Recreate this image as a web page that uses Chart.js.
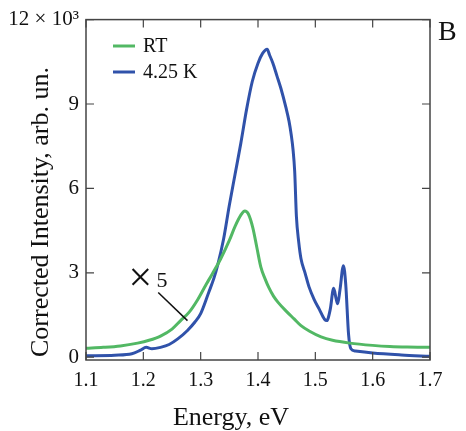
<!DOCTYPE html>
<html>
<head>
<meta charset="utf-8">
<script src="https://cdn.jsdelivr.net/npm/chart.js@4.4.1/dist/chart.umd.min.js"></script>
<style>
  html, body { margin: 0; padding: 0; background: #fff; }
  #wrap { width: 466px; height: 431px; }
</style>
</head>
<body>
<div id="wrap"><canvas id="chart"></canvas></div>
<script>
// RT spectrum
const RT_E = [1.10, 1.13, 1.16, 1.19, 1.21, 1.23, 1.25, 1.265, 1.28, 1.295, 1.31, 1.32, 1.335, 1.35, 1.36, 1.37, 1.377, 1.383, 1.391, 1.398, 1.405, 1.412, 1.419, 1.427, 1.435, 1.45, 1.463, 1.475, 1.49, 1.51, 1.53, 1.56, 1.60, 1.63, 1.66, 1.70];
const RT_I = [0.32, 0.35, 0.40, 0.50, 0.60, 0.75, 1.00, 1.30, 1.60, 2.05, 2.60, 2.95, 3.50, 4.15, 4.65, 5.05, 5.20, 5.10, 4.60, 3.90, 3.20, 2.80, 2.47, 2.17, 1.95, 1.62, 1.36, 1.12, 0.92, 0.72, 0.60, 0.50, 0.42, 0.38, 0.36, 0.35];

// 4.25 K spectrum
const LT_E = [1.10, 1.15, 1.18, 1.195, 1.205, 1.215, 1.23, 1.245, 1.26, 1.277, 1.29, 1.30, 1.314, 1.323, 1.33, 1.34, 1.35, 1.36, 1.37, 1.38, 1.39, 1.40, 1.408, 1.416, 1.42, 1.426, 1.433, 1.44, 1.449, 1.454, 1.458, 1.461, 1.464, 1.467, 1.471, 1.475, 1.482, 1.489, 1.498, 1.507, 1.516, 1.52, 1.526, 1.532, 1.536, 1.539, 1.543, 1.549, 1.553, 1.558, 1.562, 1.57, 1.60, 1.65, 1.70];
const LT_I = [0.05, 0.07, 0.12, 0.25, 0.35, 0.30, 0.35, 0.45, 0.65, 0.95, 1.25, 1.55, 2.30, 2.80, 3.30, 4.20, 5.40, 6.50, 7.60, 8.80, 9.80, 10.45, 10.80, 10.95, 10.75, 10.45, 10.00, 9.55, 8.85, 8.40, 7.90, 7.40, 6.60, 5.00, 4.10, 3.50, 3.00, 2.50, 2.05, 1.70, 1.35, 1.30, 1.70, 2.45, 2.10, 1.90, 2.40, 3.25, 2.60, 0.80, 0.30, 0.22, 0.15, 0.08, 0.03];

const X_TICKS = [1.1, 1.2, 1.3, 1.4, 1.5, 1.6, 1.7];
const Y_TICKS = [0, 3, 6, 9, 12];
const SERIES_LABELS = ['RT', '4.25 K'];

const GREEN = 'rgb(82, 184, 100)';
const BLUE = 'rgb(48, 82, 170)';
const AXIS = '#444';
const SERIF = '"Liberation Serif", "DejaVu Serif", serif';

function toPoints(xs, ys) {
  return xs.map((x, i) => ({ x: x, y: ys[i] }));
}

// frame with inward ticks, legend, panel letter and the "x 5" note
const decorations = {
  id: 'decorations',
  afterDraw(chart) {
    const { ctx, chartArea: a, scales } = chart;
    const xs = scales.x, ys = scales.y;
    ctx.save();
    ctx.strokeStyle = AXIS;
    ctx.lineWidth = 1.5;
    ctx.strokeRect(a.left, a.top, a.right - a.left, a.bottom - a.top);

    ctx.lineWidth = 1.2;
    ctx.beginPath();
    X_TICKS.forEach(v => {
      const px = xs.getPixelForValue(v);
      ctx.moveTo(px, a.bottom); ctx.lineTo(px, a.bottom - 8);
      ctx.moveTo(px, a.top); ctx.lineTo(px, a.top + 8);
    });
    Y_TICKS.forEach(v => {
      const py = ys.getPixelForValue(v);
      ctx.moveTo(a.left, py); ctx.lineTo(a.left + 8, py);
      ctx.moveTo(a.right, py); ctx.lineTo(a.right - 8, py);
    });
    ctx.stroke();

    // axis titles
    ctx.fillStyle = '#111';
    ctx.font = '26px ' + SERIF;
    ctx.textAlign = 'center';
    ctx.textBaseline = 'alphabetic';
    ctx.fillText('Energy, eV', 231, 425);
    ctx.save();
    ctx.translate(48, 212);
    ctx.rotate(-Math.PI / 2);
    ctx.fillText('Corrected Intensity, arb. un.', 0, 0);
    ctx.restore();

    // legend
    ctx.font = '20px ' + SERIF;
    ctx.textAlign = 'left';
    ctx.textBaseline = 'middle';
    [GREEN, BLUE].forEach((c, i) => {
      const y = 46 + i * 26;
      ctx.strokeStyle = c;
      ctx.lineWidth = 3;
      ctx.beginPath();
      ctx.moveTo(113, y); ctx.lineTo(135, y);
      ctx.stroke();
      ctx.fillText(SERIES_LABELS[i], 143, y + 1);
    });

    // panel letter
    ctx.font = '28px ' + SERIF;
    ctx.textBaseline = 'alphabetic';
    ctx.fillText('B', 438, 40);

    // "x 5" note with leader line
    const nx = xs.getPixelForValue(1.195), ny = ys.getPixelForValue(2.75);
    ctx.font = '42px ' + SERIF;
    ctx.textAlign = 'center';
    ctx.textBaseline = 'middle';
    ctx.fillText('\u00d7', nx, ny);
    ctx.font = '22px ' + SERIF;
    ctx.textAlign = 'left';
    ctx.fillText('5', nx + 16, ny + 1);
    ctx.strokeStyle = '#111';
    ctx.lineWidth = 1.5;
    ctx.beginPath();
    ctx.moveTo(xs.getPixelForValue(1.226), ys.getPixelForValue(2.3));
    ctx.lineTo(xs.getPixelForValue(1.277), ys.getPixelForValue(1.3));
    ctx.stroke();
    ctx.restore();
  }
};

const config = {
  type: 'line',
  data: {
    datasets: [
      {
        label: SERIES_LABELS[0],
        data: toPoints(RT_E, RT_I),
        borderColor: GREEN,
        borderWidth: 3,
        pointRadius: 0,
        cubicInterpolationMode: 'monotone',
      },
      {
        label: SERIES_LABELS[1],
        data: toPoints(LT_E, LT_I),
        borderColor: BLUE,
        borderWidth: 3,
        pointRadius: 0,
        cubicInterpolationMode: 'monotone',
      },
    ],
  },
  options: {
    responsive: true,
    maintainAspectRatio: false,
    animation: false,
    layout: { padding: { left: 0, right: 36, top: 17, bottom: 0 } },
    plugins: {
      legend: { display: false },
      tooltip: { enabled: false },
    },
    scales: {
      x: {
        type: 'linear',
        min: 1.1,
        max: 1.7,
        grid: { display: false, drawTicks: false },
        border: { display: false },
        afterBuildTicks: s => { s.ticks = X_TICKS.map(v => ({ value: v })); },
        afterFit: s => { s.height = 71; },
        ticks: {
          color: '#111',
          padding: 9,
          font: { family: SERIF, size: 20 },
          maxRotation: 0,
          callback: v => v.toFixed(1),
        },
      },
      y: {
        type: 'linear',
        min: -0.1,
        max: 12,
        grid: { display: false, drawTicks: false },
        border: { display: false },
        afterBuildTicks: s => { s.ticks = Y_TICKS.map(v => ({ value: v })); },
        afterFit: s => { s.width = 86; },
        ticks: {
          color: '#111',
          padding: 7,
          font: { family: SERIF, size: 21 },
          callback: v => (v === 12 ? '12 \u00d7 10\u00b3' : String(v)),
        },
      },
    },
  },
  plugins: [decorations],
};

new Chart(document.getElementById('chart'), config);
</script>
</body>
</html>
